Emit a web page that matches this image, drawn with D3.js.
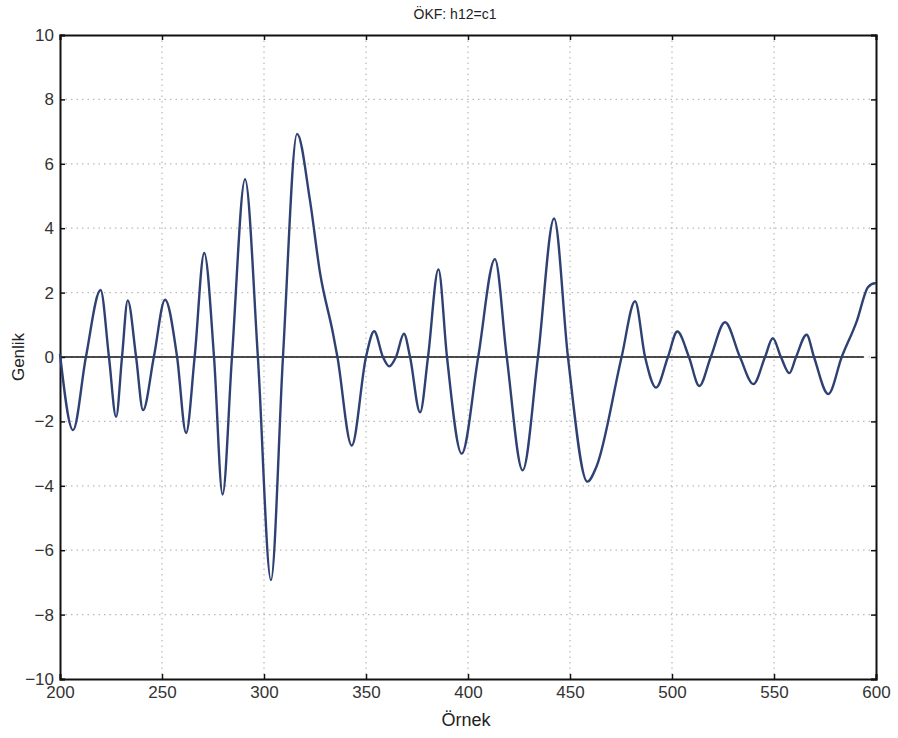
<!DOCTYPE html>
<html>
<head>
<meta charset="utf-8">
<script src="https://cdn.jsdelivr.net/npm/d3@7"></script>
<style>
body{margin:0;background:#fff}
svg{display:block;font-family:"Liberation Sans",Arial,sans-serif}
.tick text{font-size:17px}
</style>
</head>
<body>
<div id="chart"></div>
<script>
// samples (x = Örnek, y = Genlik)
let xTicks=[200,250,300,350,400,450,500,550,600]
let yTicks=[-10,-8,-6,-4,-2,0,2,4,6,8,10]
let sampleX=[200,206.4,212.7,219.9,224,227.5,230.4,233.2,237.3,240.7,246,251.5,257.4,261.8,266,270.7,275.5,279.7,284.3,290.7,297,303.4,309.3,316.2,322.5,327.5,333.8,336,343,350,354,358.3,361.4,364.7,368.6,371.6,376.5,380.4,385.5,389.7,396.9,405,413.2,419,426.8,434.3,442.2,449,458.5,463,475.3,481.9,486.8,492.2,498,502.6,508.3,513.4,519,526,533.3,539.9,545.6,549.4,553.4,557.5,560.8,566,569.6,576.6,583.2,590.5,596.2,599.5,600]
let sampleY=[0.1,-2.27,0,2.08,0,-1.86,0,1.76,0,-1.65,0,1.78,0,-2.36,0,3.23,0,-4.27,0,5.52,0,-6.93,0,6.93,4.88,2.6,0.74,0,-2.75,0,0.8,0,-0.29,0,0.72,0,-1.72,0,2.72,0,-3.0,0,3.04,0,-3.52,0,4.3,0,-3.87,-3.4,0,1.73,0,-0.95,0,0.79,0,-0.9,0,1.08,0,-0.84,0,0.58,0,-0.5,0,0.69,0,-1.15,0,1.1,2.18,2.29,2.29]
let zeroLine=[200,594]

let width=898,height=738
let margin={left:60,right:22,top:35,bottom:59}
let svg=d3.select("#chart").append("svg").attr("width",width).attr("height",height)

let xScale=d3.scaleLinear().domain([200,600]).range([margin.left,width-margin.right])
let yScale=d3.scaleLinear().domain([-10,10]).range([height-margin.bottom,margin.top])
let x0=xScale(200),x1=xScale(600),y0=yScale(-10),y1=yScale(10)

// dotted grid
svg.append("g").selectAll("line").data(xTicks.slice(1,-1)).enter().append("line")
  .attr("x1",d=>xScale(d)).attr("x2",d=>xScale(d)).attr("y1",y1).attr("y2",y0)
  .attr("stroke","#b8b8b8").attr("stroke-width",1.2).attr("stroke-dasharray","1.5,4")
svg.append("g").selectAll("line").data(yTicks.slice(1,-1)).enter().append("line")
  .attr("y1",d=>yScale(d)).attr("y2",d=>yScale(d)).attr("x1",x0).attr("x2",x1)
  .attr("stroke","#b8b8b8").attr("stroke-width",1.2).attr("stroke-dasharray","1.5,4")

// axes, ticks pointing inward
let fmt=d=>d<0?"\u2212"+Math.abs(d):d
svg.append("g").attr("transform","translate(0,"+y0+")")
  .call(d3.axisBottom(xScale).tickValues(xTicks).tickSize(-5).tickPadding(7).tickFormat(fmt))
svg.append("g").attr("transform","translate("+x0+",0)")
  .call(d3.axisLeft(yScale).tickValues(yTicks).tickSize(-5).tickPadding(6).tickFormat(fmt))
svg.append("g").attr("transform","translate(0,"+y1+")")
  .call(d3.axisTop(xScale).tickValues(xTicks).tickSize(-5).tickFormat(""))
svg.append("g").attr("transform","translate("+x1+",0)")
  .call(d3.axisRight(yScale).tickValues(yTicks).tickSize(-5).tickFormat(""))
svg.selectAll(".domain").attr("stroke","#111").attr("stroke-width",2)
svg.selectAll(".tick line").attr("stroke","#111").attr("stroke-width",1.5)
svg.selectAll(".tick text").attr("fill","#333")

// zero line
svg.append("line").attr("x1",xScale(zeroLine[0])).attr("x2",xScale(zeroLine[1]))
  .attr("y1",yScale(0)).attr("y2",yScale(0)).attr("stroke","#111").attr("stroke-width",1.5)

// signal
let pts=sampleX.map((d,i)=>[d,sampleY[i]])
let line=d3.line().x(d=>xScale(d[0])).y(d=>yScale(d[1])).curve(d3.curveMonotoneX)
svg.append("path").datum(pts).attr("d",line).attr("fill","none")
  .attr("stroke","#2f4172").attr("stroke-width",2.4)

// labels
svg.append("text").attr("x",455).attr("y",19).attr("text-anchor","middle")
  .style("font-size","14px").attr("fill","#222").text("ÖKF: h12=c1")
svg.append("text").attr("x",466).attr("y",726).attr("text-anchor","middle")
  .style("font-size","18px").attr("fill","#222").text("Örnek")
svg.append("text").attr("transform","translate(24,"+yScale(0)+") rotate(-90)").attr("text-anchor","middle")
  .style("font-size","17px").attr("fill","#222").text("Genlik")
</script>
</body>
</html>
